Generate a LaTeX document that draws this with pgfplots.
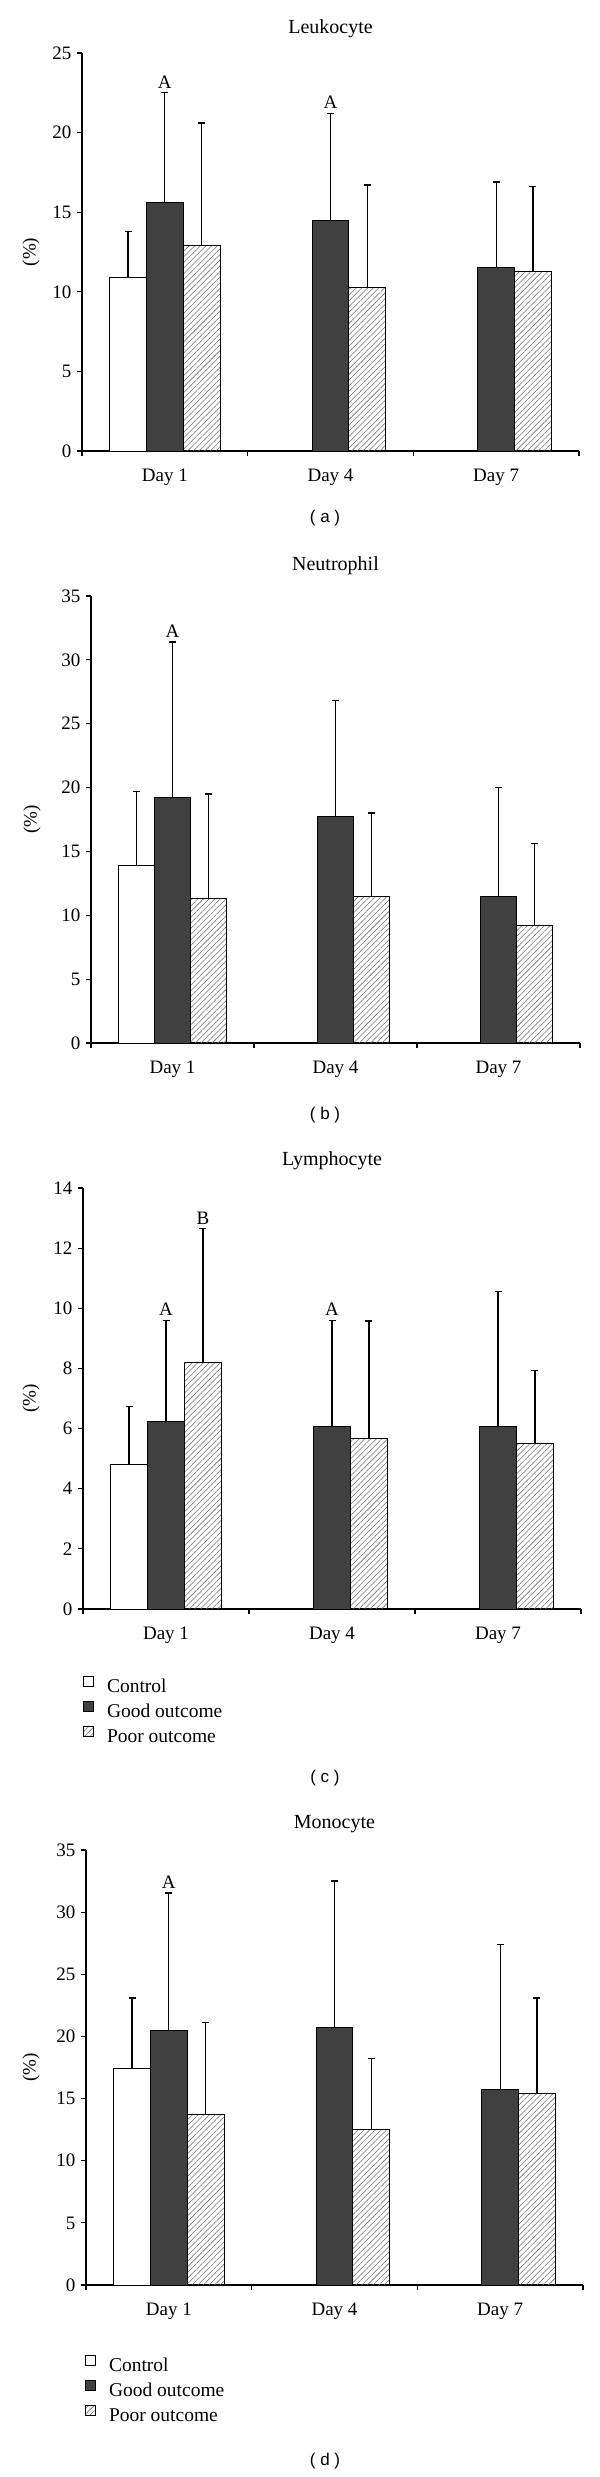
\documentclass[border=0pt]{standalone}
\usepackage{fontspec}
\setmainfont{Liberation Serif}
\newfontfamily\subfont{Liberation Sans}
\usepackage{pgfplots}
\pgfplotsset{compat=1.18}
\usetikzlibrary{patterns,patterns.meta}

\definecolor{gooddark}{HTML}{404040}
\definecolor{hatchgray}{HTML}{6F6F6F}

\newcommand{\sz}{\fontsize{19bp}{19bp}\selectfont}
\newcommand{\tz}{\fontsize{20bp}{20bp}\selectfont}
\newcommand{\lz}{\fontsize{19.5bp}{19.5bp}\selectfont}

\pgfplotsset{
  panel/.style={
    scale only axis,
    xmin=-0.5, xmax=2.5, ymin=0,
    axis x line*=bottom, axis y line*=left,
    axis line style={-, line width=1.2bp, black},
    xtick pos=left, ytick pos=left,
    tick align=outside,
    major tick length=5bp,
    tick style={line width=1.1bp, black},
    xtick={-0.5,0.5,1.5,2.5},
    xticklabels={},
    extra x ticks={0,1,2},
    extra x tick labels={Day 1,Day 4,Day 7},
    extra x tick style={major tick length=0bp, xticklabel style={anchor=base, yshift=-30bp}},
    ybar,
    bar width=0.222,
    tick label style={font=\sz},
    yticklabel style={xshift=-2bp},
    /pgf/number format/assume math mode=true,
    ylabel={(\%)},
    label style={font=\sz},
    title style={font=\tz, anchor=base, at={(0.5,1)}},
    clip=false,
  },
  leg/.style={
    legend style={draw=none, fill=none, inner sep=0pt, outer sep=0pt,
      at={(axis description cs:0,0)}, anchor=north west,
      font=\lz, row sep=7bp, column sep=13bp,
      nodes={inner sep=0pt}, cells={anchor=west}},
    legend image code/.code={\draw[##1] (0bp,0bp) rectangle (10bp,10bp);},
  },
  ctrl/.style={fill=white, draw=black, line width=1bp, bar shift=-0.222},
  good/.style={fill=gooddark, draw=black, line width=1bp, bar shift=0},
  poor/.style={pattern={Lines[angle=45,distance=4bp,line width=0.55bp]}, pattern color=hatchgray, draw=black, line width=1bp, bar shift=0.222},
  eb/.style={/pgfplots/error bars/y dir=plus, /pgfplots/error bars/y explicit,
    /pgfplots/error bars/error mark=|,
    /pgfplots/error bars/error bar style={line width=1.3bp, black},
    /pgfplots/error bars/error mark options={line width=1.3bp, mark size=3.5bp, black}},
}

\begin{document}
\begin{tikzpicture}
\path[use as bounding box] (0,0) rectangle (600bp,-2477bp);

% ---------- (a) Leukocyte ----------
\begin{axis}[panel, at={(82bp,-451bp)}, anchor=south west,
  width=497bp, height=398bp, ymax=25, ytick={0,5,...,25},
  title={Leukocyte}, title style={yshift=14bp},
  ylabel style={at={(axis description cs:-0.1026,0.5)}, anchor=center}]
\addplot[ctrl, eb] coordinates {(0,10.9) +- (0,2.9)};
\addplot[good, eb] coordinates {(0,15.6) +- (0,6.9) (1,14.5) +- (0,6.7) (2,11.5) +- (0,5.4)};
\addplot[poor, eb] coordinates {(0,12.9) +- (0,7.7) (1,10.3) +- (0,6.4) (2,11.3) +- (0,5.3)};
\node[above, font=\sz, yshift=1bp] at (axis cs:0,22.5) {A};
\node[above, font=\sz, yshift=1bp] at (axis cs:1,21.2) {A};
\end{axis}
\node[font=\subfont\fontsize{17bp}{17bp}\selectfont] at (325bp,-518bp) {( a )};

% ---------- (b) Neutrophil ----------
\begin{axis}[panel, at={(91bp,-1043bp)}, anchor=south west,
  width=489bp, height=447bp, ymax=35, ytick={0,5,...,35},
  title={Neutrophil}, title style={yshift=20bp},
  ylabel style={at={(axis description cs:-0.1207,0.5)}, anchor=center}]
\addplot[ctrl, eb] coordinates {(0,13.9) +- (0,5.8)};
\addplot[good, eb] coordinates {(0,19.2) +- (0,12.2) (1,17.7) +- (0,9.1) (2,11.5) +- (0,8.5)};
\addplot[poor, eb] coordinates {(0,11.3) +- (0,8.2) (1,11.5) +- (0,6.5) (2,9.2) +- (0,6.4)};
\node[above, font=\sz, yshift=1bp] at (axis cs:0,31.4) {A};
\end{axis}
\node[font=\subfont\fontsize{17bp}{17bp}\selectfont] at (325bp,-1115bp) {( b )};

% ---------- (c) Lymphocyte ----------
\begin{axis}[panel, leg, at={(83bp,-1609bp)}, anchor=south west,
  width=498bp, height=421bp, ymax=14, ytick={0,2,...,14},
  title={Lymphocyte}, title style={yshift=17bp},
  legend style={yshift=-67bp},
  ylabel style={at={(axis description cs:-0.1044,0.5)}, anchor=center}]
\addplot[ctrl, eb] coordinates {(0,4.8) +- (0,1.93)};
\addplot[good, eb] coordinates {(0,6.25) +- (0,3.35) (1,6.06) +- (0,3.54) (2,6.06) +- (0,4.49)};
\addplot[poor, eb] coordinates {(0,8.19) +- (0,4.46) (1,5.67) +- (0,3.91) (2,5.49) +- (0,2.45)};
\legend{Control, Good outcome, Poor outcome}
\node[above, font=\sz, yshift=1bp] at (axis cs:0,9.6) {A};
\node[above, font=\sz, yshift=1bp] at (axis cs:0.222,12.65) {B};
\node[above, font=\sz, yshift=1bp] at (axis cs:1,9.6) {A};
\end{axis}
\node[font=\subfont\fontsize{17bp}{17bp}\selectfont] at (325bp,-1778bp) {( c )};

% ---------- (d) Monocyte ----------
\begin{axis}[panel, leg, at={(86bp,-2285bp)}, anchor=south west,
  width=497bp, height=435bp, ymax=35, ytick={0,5,...,35},
  title={Monocyte}, title style={yshift=16bp},
  legend style={yshift=-70bp, xshift=-1bp},
  ylabel style={at={(axis description cs:-0.1107,0.5)}, anchor=center}]
\addplot[ctrl, eb] coordinates {(0,17.4) +- (0,5.7)};
\addplot[good, eb] coordinates {(0,20.5) +- (0,11.05) (1,20.75) +- (0,11.75) (2,15.7) +- (0,11.7)};
\addplot[poor, eb] coordinates {(0,13.7) +- (0,7.4) (1,12.5) +- (0,5.75) (2,15.45) +- (0,7.65)};
\legend{Control, Good outcome, Poor outcome}
\node[above, font=\sz, yshift=1bp] at (axis cs:0,31.55) {A};
\end{axis}
\node[font=\subfont\fontsize{17bp}{17bp}\selectfont] at (325bp,-2461bp) {( d )};
\end{tikzpicture}
\end{document}
